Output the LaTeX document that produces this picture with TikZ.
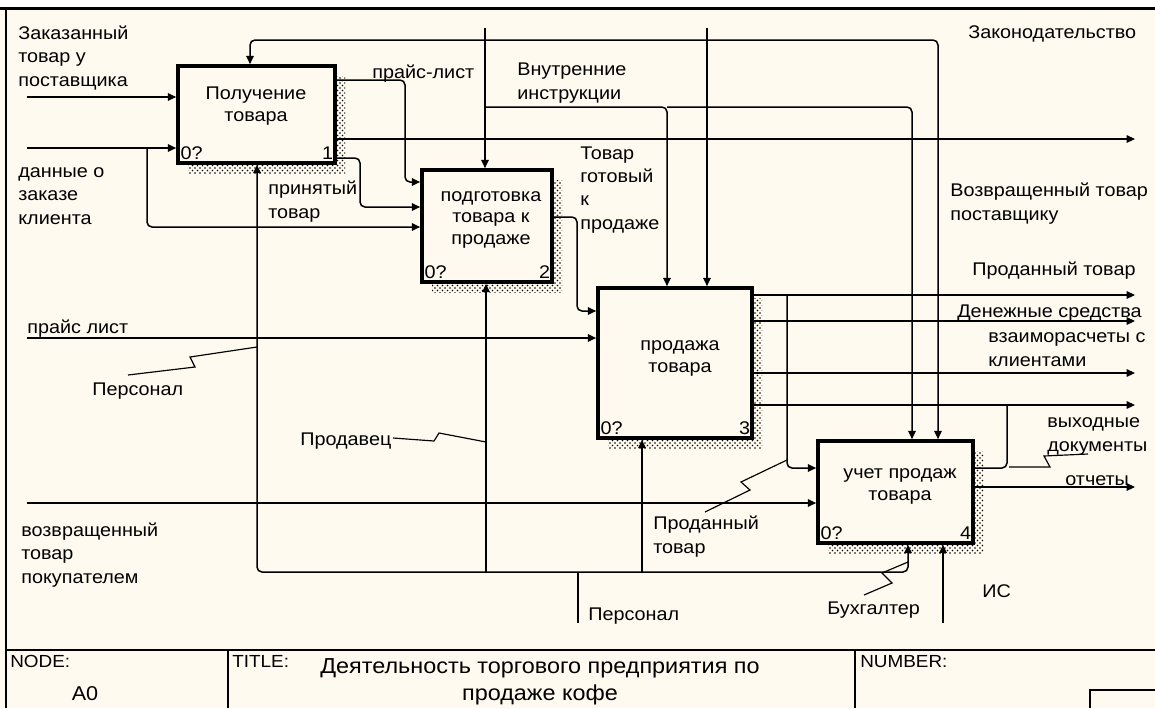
\documentclass[tikz,border=0pt]{standalone}
\usepackage{fontspec}
\setmainfont{Liberation Sans}[FakeStretch=1.08]
\usetikzlibrary{arrows.meta, patterns, shadows}
\definecolor{paper}{HTML}{FFFAF0}

\tikzset{
	box/.style={draw, line width=2.2pt, fill=paper, inner sep=0pt,
		drop shadow={shadow xshift=6pt, shadow yshift=-6pt, opacity=1, pattern=crosshatch dots}},
	flow/.style={line width=0.9pt, -{Triangle[length=5pt,width=4.5pt]}},
	link/.style={line width=0.9pt},
	lead/.style={line width=0.7pt},
	lbl/.style={inner sep=0pt, anchor=base west, align=left, font=\fontsize{11}{14}\selectfont},
	btxt/.style={inner sep=0pt, anchor=base, align=center, font=\fontsize{11}{12.8}\selectfont},
	num/.style={inner sep=0pt, font=\fontsize{11}{13}\selectfont},
	frame/.style={line width=1pt}
}

\begin{document}
\begin{tikzpicture}[x=0.6pt, y=-0.6pt]
	\useasboundingbox (0,0) rectangle (1155,708);
	\fill[paper] (0,0) rectangle (1155,708);
	\fill[white] (0,0) rectangle (1155,7);
	\draw[line width=1.5pt] (0,8.5) -- (1155,8.5);
	\draw[frame] (6,8) -- (6,708);
	\draw[frame] (6,650) -- (1155,650);
	\draw[frame] (228,650) -- (228,708) (855,650) -- (855,708);
	\draw[frame] (1090,708) -- (1090,690) -- (1155,690);
	
	\node[box, minimum width=94.2pt, minimum height=58.2pt] (A1) at (256.5,114.5) {};
	\node[box, minimum width=78pt, minimum height=67.2pt] (A2) at (487,226) {};
	\node[box, minimum width=92.4pt, minimum height=90pt] (A3) at (675,363) {};
	\node[box, minimum width=93pt, minimum height=61.2pt] (A4) at (895.5,492) {};
	
	\foreach \b/\n in {A1/1, A2/2, A3/3, A4/4}{
		\node[num, anchor=base west, xshift=2.5pt, yshift=3pt] (\b q) at (\b.south west) {0?};
		\node[num, anchor=base east, xshift=-2pt, yshift=3pt] (\b n) at (\b.south east) {\n};
	}
	
	\node[btxt] (A1t) at (256,121) {Получение\\товара};
	\node[btxt] (A2t) at (491,244) {подготовка\\товара к\\продаже};
	\node[btxt] (A3t) at (680,372) {продажа\\товара};
	\node[btxt] (A4t) at (900,500) {учет продаж\\товара};
	
	\coordinate (in1) at (27,97);
	\coordinate (in2) at (27,148);
	\coordinate (in3) at (27,338);
	\coordinate (in4) at (27,503);
	\coordinate (br1) at (147,148);
	\draw[flow] (in1) -- (A1.west |- in1);
	\draw[flow] (in2) -- (A1.west |- in2);
	\draw[flow] (in3) -- (A3.west |- in3);
	\draw[flow] (in4) -- (A4.west |- in4);
	\draw[flow, rounded corners=3pt] (br1) -- (147,227) -- (A2.west |- 0,227);
	
	\draw[flow, rounded corners=3pt] (A1.east |- 0,80) -- (405,80) -- (405,182) -- (A2.west |- 0,182);
	\draw[flow, rounded corners=3pt] (A1.east |- 0,158) -- (360,158) -- (360,207) -- (A2.west |- 0,207);
	\coordinate (out1) at (1135,139);
	\draw[flow] (A1.east |- out1) -- (out1);
	
	\draw[flow, rounded corners=3pt] (A2.east |- 0,217) -- (577,217) -- (577,311) -- (A3.west |- 0,311);
	
	\foreach \y/\nm in {295/out2, 321/out3, 373/out4, 405/out5}{
		\coordinate (\nm) at (1135,\y);
		\draw[flow] (A3.east |- \nm) -- (\nm);
	}
	\draw[flow, rounded corners=3pt] (787,295) -- (787,468) -- (A4.west |- 0,468);
	
	\draw[link, rounded corners=3pt] (A4.east |- 0,468) -- (1007,468) -- (1007,405);
	\coordinate (out6) at (1135,487);
	\draw[flow] (A4.east |- out6) -- (out6);
	
	\coordinate (ct1) at (707,28);
	\coordinate (ct2) at (485,28);
	\draw[flow] (ct1) -- (A3.north -| ct1);
	\draw[flow, rounded corners=3pt] (707,40) -- (250,40) -- (A1.north -| 250,0);
	\draw[flow, rounded corners=3pt] (707,40) -- (938,40) -- (A4.north -| 938,0);
	\draw[flow] (ct2) -- (A2.north -| ct2);
	\draw[flow, rounded corners=3pt] (485,107) -- (667,107) -- (A3.north -| 667,0);
	\draw[flow, rounded corners=3pt] (667,107) -- (912,107) -- (A4.north -| 912,0);
	
	\coordinate (mc1) at (578,623);
	\coordinate (mc2) at (943,623);
	\draw[link] (mc1) -- (578,572);
	\draw[flow, rounded corners=3pt] (578,572) -- (257,572) -- (A1.south -| 257,0);
	\draw[flow] (486,572) -- (A2.south -| 486,0);
	\draw[flow] (642,572) -- (A3.south -| 642,0);
	\draw[flow, rounded corners=3pt] (578,572) -- (908,572) -- (A4.south -| 908,0);
	\draw[flow] (mc2) -- (A4.south -| mc2);
	
	\draw[lead] (128,375) -- (195,367) -- (190,357) -- (257,347);
	\draw[lead] (393,438) -- (434,441) -- (439,433) -- (486,442);
	\draw[lead] (705,512) -- (750,490) -- (741,482) -- (787,460);
	\draw[lead] (864,595) -- (892,583) -- (882,573) -- (908,562);
	\draw[lead] (1009,467) -- (1050,467) -- (1044,456) -- (1088,454);
	
	\foreach \x/\y/\txt/\nm in {
		18/86/{Заказанный\\товар у\\поставщика}/lOrdered,
		18/224/{данные о\\заказе\\клиента}/lOrderData,
		27/333/{прайс лист}/lPrice,
		92/395/{Персонал}/lStaffA,
		300/445/{Продавец}/lSeller,
		21/583/{возвращенный\\товар\\покупателем}/lReturnIn,
		372/78/{прайс-лист}/lPriceList,
		517/99/{Внутренние\\инструкции}/lRules,
		268/218/{принятый\\товар}/lAccepted,
		580/229/{Товар\\готовый\\к\\продаже}/lReady,
		968/38/{Законодательство}/lLaw,
		950/220/{Возвращенный товар\\поставщику}/lReturnOut,
		972/275/{Проданный товар}/lSoldOut,
		957/317/{Денежные средства}/lMoney,
		988/366/{взаиморасчеты с\\клиентами}/lSettle,
		1047/451/{выходные\\документы}/lDocs,
		1065/485/{отчеты}/lReports,
		653/553/{Проданный\\товар}/lSoldIn,
		588/620/{Персонал}/lStaffB,
		827/614/{Бухгалтер}/lAccountant,
		982/597/{ИС}/lIS
	}{
		\node[lbl] (\nm) at (\x,\y) {\txt};
	}
	
	\node[lbl, font=\fontsize{10.5}{12}\selectfont] (tNode) at (10,667) {NODE:};
	\node[lbl, font=\fontsize{10.5}{12}\selectfont] (tTitle) at (232,667) {TITLE:};
	\node[lbl, font=\fontsize{10.5}{12}\selectfont] (tNumber) at (860,667) {NUMBER:};
	\node[btxt, font=\fontsize{12}{14}\selectfont] (tA0) at (85,700) {A0};
	\node[btxt, font=\fontsize{13}{16}\selectfont] (tName) at (540,700) {Деятельность торгового предприятия по\\продаже кофе};
\end{tikzpicture}
\end{document}
